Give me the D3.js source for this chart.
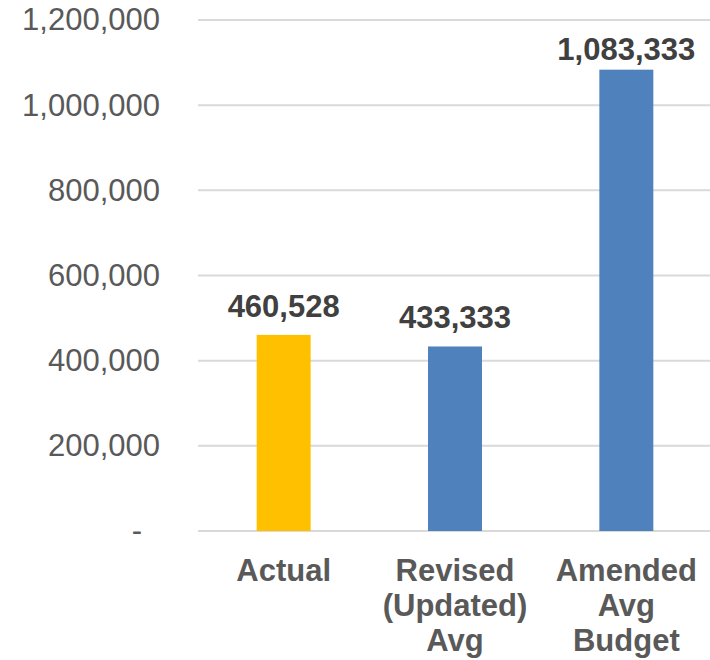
<!DOCTYPE html>
<html>
<head>
<meta charset="utf-8">
<script src="https://cdn.jsdelivr.net/npm/d3@7"></script>
<style>
  body { margin: 0; background: #fff; }
  text { font-family: "Liberation Sans", Arial, sans-serif; }
</style>
</head>
<body>
<div id="chart"></div>
<script>
// Chart data
const categories = [["Actual"], ["Revised", "(Updated)", "Avg"], ["Amended", "Avg", "Budget"]];
const values = [460528, 433333, 1083333];
const barColors = ["#FFC000", "#4F81BD", "#4F81BD"];
const yTicks = [0, 200000, 400000, 600000, 800000, 1000000, 1200000];
const yTickLabels = ["-", "200,000", "400,000", "600,000", "800,000", "1,000,000", "1,200,000"];

// Define chart dimensions
const W = 710, H = 660;
const margin = {top: 20, right: -2, bottom: 129, left: 198};
const width = W - margin.left - margin.right;
const height = H - margin.top - margin.bottom;

const svg = d3.select("#chart").append("svg")
  .attr("width", W)
  .attr("height", H)
  .append("g")
  .attr("transform", "translate(" + margin.left + "," + margin.top + ")");

// Scales
const x = d3.scaleBand().range([0, width]).paddingInner(0.685).paddingOuter(0.3425)
  .domain(d3.range(values.length));
const y = d3.scaleLinear().range([height, 0]).domain([0, 1200000]);

// Gridlines
svg.selectAll(".grid")
  .data(yTicks)
  .enter().append("line")
  .attr("x1", 0)
  .attr("x2", W - margin.left)
  .attr("y1", d => y(d))
  .attr("y2", d => y(d))
  .attr("stroke", "#D9D9D9")
  .attr("stroke-width", 2);

// Y axis labels
const yAxis = d3.axisLeft(y).tickValues(yTicks)
  .tickFormat((d, i) => yTickLabels[i]).tickSize(0).tickPadding(38);
const ya = svg.append("g").call(yAxis);
ya.select(".domain").remove();
ya.selectAll("text")
  .attr("font-size", 31)
  .attr("fill", "#595959")
  .attr("font-family", "'Liberation Sans', Arial, sans-serif")
  .attr("dx", (d, i) => i === 0 ? -18 : 0);

// Bars
svg.selectAll(".bar")
  .data(values)
  .enter().append("rect")
  .attr("class", "bar")
  .attr("x", (d, i) => x(i))
  .attr("width", x.bandwidth())
  .attr("y", d => y(d))
  .attr("height", d => height - y(d))
  .attr("fill", (d, i) => barColors[i]);

// Value labels
svg.selectAll(".val")
  .data(values)
  .enter().append("text")
  .attr("x", (d, i) => x(i) + x.bandwidth() / 2)
  .attr("y", d => Math.max(y(d) - 18, y(1200000) + 40))
  .attr("text-anchor", "middle")
  .attr("font-size", 31)
  .attr("font-weight", "bold")
  .attr("fill", "#404040")
  .text(d => d3.format(",")(d));

// Category labels
const cat = svg.selectAll(".cat")
  .data(categories)
  .enter().append("text")
  .attr("text-anchor", "middle")
  .attr("font-size", 31)
  .attr("font-weight", "bold")
  .attr("fill", "#595959")
  .attr("transform", (d, i) => "translate(" + (x(i) + x.bandwidth() / 2) + "," + (height + 50) + ")");

cat.selectAll("tspan")
  .data(d => d)
  .enter().append("tspan")
  .attr("x", 0)
  .attr("y", (d, i) => i * 35)
  .text(d => d);
</script>
</body>
</html>
